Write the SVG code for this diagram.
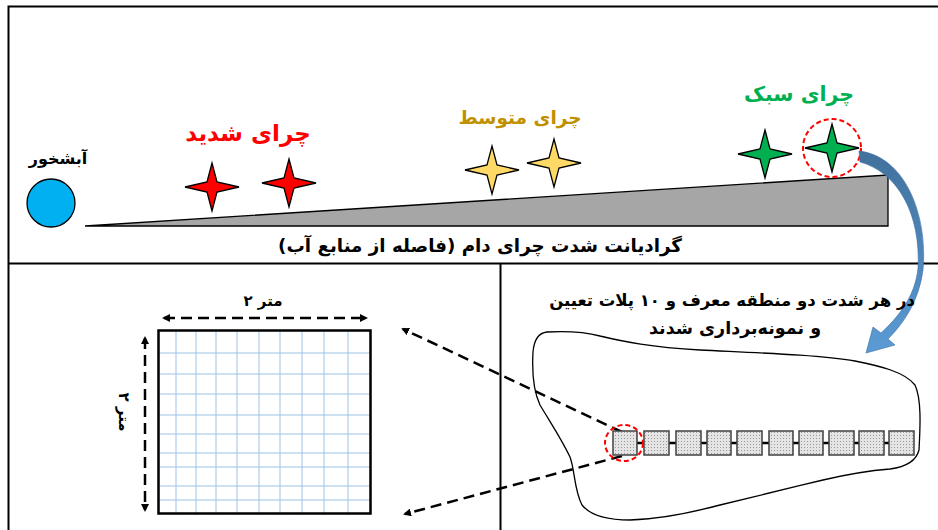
<svg xmlns="http://www.w3.org/2000/svg" width="938" height="530" viewBox="0 0 938 530">
<defs>
  <style>
    .fa{font-family:"DejaVu Sans","Noto Sans",sans-serif;font-weight:bold;direction:rtl;unicode-bidi:embed}
    .frame{stroke:#000;stroke-width:2;fill:none}
    .dash{stroke:#000;stroke-width:2.5;fill:none;stroke-dasharray:11 6}
    .reddash{stroke:#FF0000;stroke-width:2;fill:none;stroke-dasharray:5 3}
    .grid{stroke:#9DC3E6;stroke-width:1;fill:none}
    .plot{fill:url(#dots);stroke:#404040;stroke-width:1.5}
    .star{stroke:#000;stroke-width:1.3;stroke-linejoin:miter}
  </style>
  <linearGradient id="blue" x1="0" y1="0" x2="0" y2="1">
    <stop offset="0" stop-color="#41719C"/>
    <stop offset="1" stop-color="#5B9BD5"/>
  </linearGradient>
  <pattern id="dots" width="3" height="3" patternUnits="userSpaceOnUse">
    <rect width="3" height="3" fill="#E4E4E4"/>
    <rect width="1" height="1" fill="#9A9A9A"/>
  </pattern>
  <path id="star" d="M0,-24 L5,-5 L27,0 L5,5 L0,24 L-5,5 L-27,0 L-5,-5 Z"/>
  <marker id="ah" markerWidth="8" markerHeight="8" refX="6" refY="4" orient="auto" markerUnits="userSpaceOnUse">
    <path d="M0,0 L8,4 L0,8 Z" fill="#000"/>
  </marker>
  <marker id="ahs" markerWidth="8" markerHeight="8" refX="6" refY="4" orient="auto-start-reverse" markerUnits="userSpaceOnUse">
    <path d="M0,0 L8,4 L0,8 Z" fill="#000"/>
  </marker>
</defs>
<rect width="938" height="530" fill="#fff"/>

<g id="frame">
  <path class="frame" d="M8.5,530 L8.5,6.5 L938,6.5"/>
  <path class="frame" d="M8,263.5 L938,263.5"/>
  <path class="frame" d="M500.5,263 L500.5,530"/>
</g>

<g id="water">
  <circle cx="51" cy="203" r="24" fill="#00B0F0" stroke="#000" stroke-width="1.3"/>
  <text class="fa" x="58" y="164" font-size="16" text-anchor="middle">آبشخور</text>
</g>

<g id="gradient">
  <path d="M85,226 L888,175 L888,226 Z" fill="#A6A6A6" stroke="#000" stroke-width="1.3"/>
  <text class="fa" x="480" y="252" font-size="18.3" text-anchor="middle">گرادیانت شدت چرای دام (فاصله از منابع آب)</text>
</g>

<g id="heavy">
  <text class="fa" x="248" y="141" font-size="23" fill="#FF0000" text-anchor="middle">چرای شدید</text>
  <use href="#star" transform="translate(212,187)" class="star" fill="#FF0000"/>
  <use href="#star" transform="translate(289,183)" class="star" fill="#FF0000"/>
</g>

<g id="moderate">
  <text class="fa" x="520" y="124" font-size="18.5" fill="#BF9000" text-anchor="middle">چرای متوسط</text>
  <use href="#star" transform="translate(492,170)" class="star" fill="#FFD966"/>
  <use href="#star" transform="translate(554,163)" class="star" fill="#FFD966"/>
</g>

<g id="light">
  <text class="fa" x="799" y="101" font-size="20.5" fill="#00B050" text-anchor="middle">چرای سبک</text>
  <use href="#star" transform="translate(765,154)" class="star" fill="#00B050"/>
  <use href="#star" transform="translate(832,148)" class="star" fill="#00B050"/>
  <circle cx="832" cy="148" r="29" class="reddash"/>
</g>

<g id="connectors">
  <path d="M859,151 C905,156 928,215 923,270 C919,300 905,322 888,339 L895,345 L866,353 L873,327 L881,333 C897,318 915,298 918,268 C921,215 898,172 860,162 Z" fill="url(#blue)" stroke="#3A6FA5" stroke-width="0.6"/>
  <path class="dash" d="M622,432 L403,329" marker-end="url(#ah)"/>
  <path class="dash" d="M622,456 L405,514" marker-end="url(#ah)"/>
</g>

<g id="plotsize">
  <rect x="158.5" y="330.5" width="212" height="183" fill="#fff"/>
  <path class="grid" d="M176,330V513M196,330V513M216,330V513M237,330V513M259,330V513M280,330V513M302,330V513M324,330V513M348,330V513"/>
  <path class="grid" d="M158,353H371M158,374H371M158,394H371M158,415H371M158,434H371M158,453H371M158,467H371M158,486H371M158,500H371"/>
  <rect x="158.5" y="330.5" width="212" height="183" fill="none" stroke="#000" stroke-width="2.5"/>
  <path class="dash" d="M164,318 L366,318" marker-start="url(#ahs)" marker-end="url(#ah)"/>
  <path class="dash" d="M145,338 L145,510" marker-start="url(#ahs)" marker-end="url(#ah)"/>
  <text x="263" y="306" font-family="DejaVu Sans,sans-serif" font-weight="bold" font-size="15" text-anchor="middle">متر ۲</text>
  <text transform="translate(119,412) rotate(90)" font-family="DejaVu Sans,sans-serif" font-weight="bold" font-size="15" text-anchor="middle">متر ۲</text>
</g>

<g id="site">
  <text class="fa" x="915" y="306" font-size="16.5" text-anchor="start">در هر شدت دو منطقه معرف و ۱۰ پلات تعیین</text>
  <text class="fa" x="735" y="334" font-size="17.5" text-anchor="middle">و نمونه‌برداری شدند</text>
  <path d="M547,332 C565,331 585,332 600,336 C625,342 650,347 700,350 C760,353 820,355 855,361 C880,366 905,372 915,385 C922,400 920,430 919,450 C916,462 905,467 890,469 C865,471 840,476 823,480 C790,488 760,495 720,505 C690,513 660,519 630,520 C605,520 590,515 582,505 C574,490 575,470 570,457 C562,440 552,425 540,405 C533,390 532,370 533,352 C534,340 538,333 547,332 Z" fill="none" stroke="#000" stroke-width="1.3"/>
  <path d="M637,443 H889" stroke="#000" stroke-width="2.5"/>
  <rect class="plot" x="613" y="431" width="24" height="24"/>
  <rect class="plot" x="644" y="431" width="25" height="24"/>
  <rect class="plot" x="676" y="431" width="25" height="24"/>
  <rect class="plot" x="707" y="431" width="24" height="24"/>
  <rect class="plot" x="737" y="431" width="25" height="24"/>
  <rect class="plot" x="769" y="431" width="24" height="24"/>
  <rect class="plot" x="799" y="431" width="24" height="24"/>
  <rect class="plot" x="829" y="431" width="25" height="24"/>
  <rect class="plot" x="859" y="431" width="25" height="24"/>
  <rect class="plot" x="889" y="431" width="25" height="24"/>
  <ellipse cx="624" cy="443" rx="19" ry="18" class="reddash"/>
</g>
</svg>
